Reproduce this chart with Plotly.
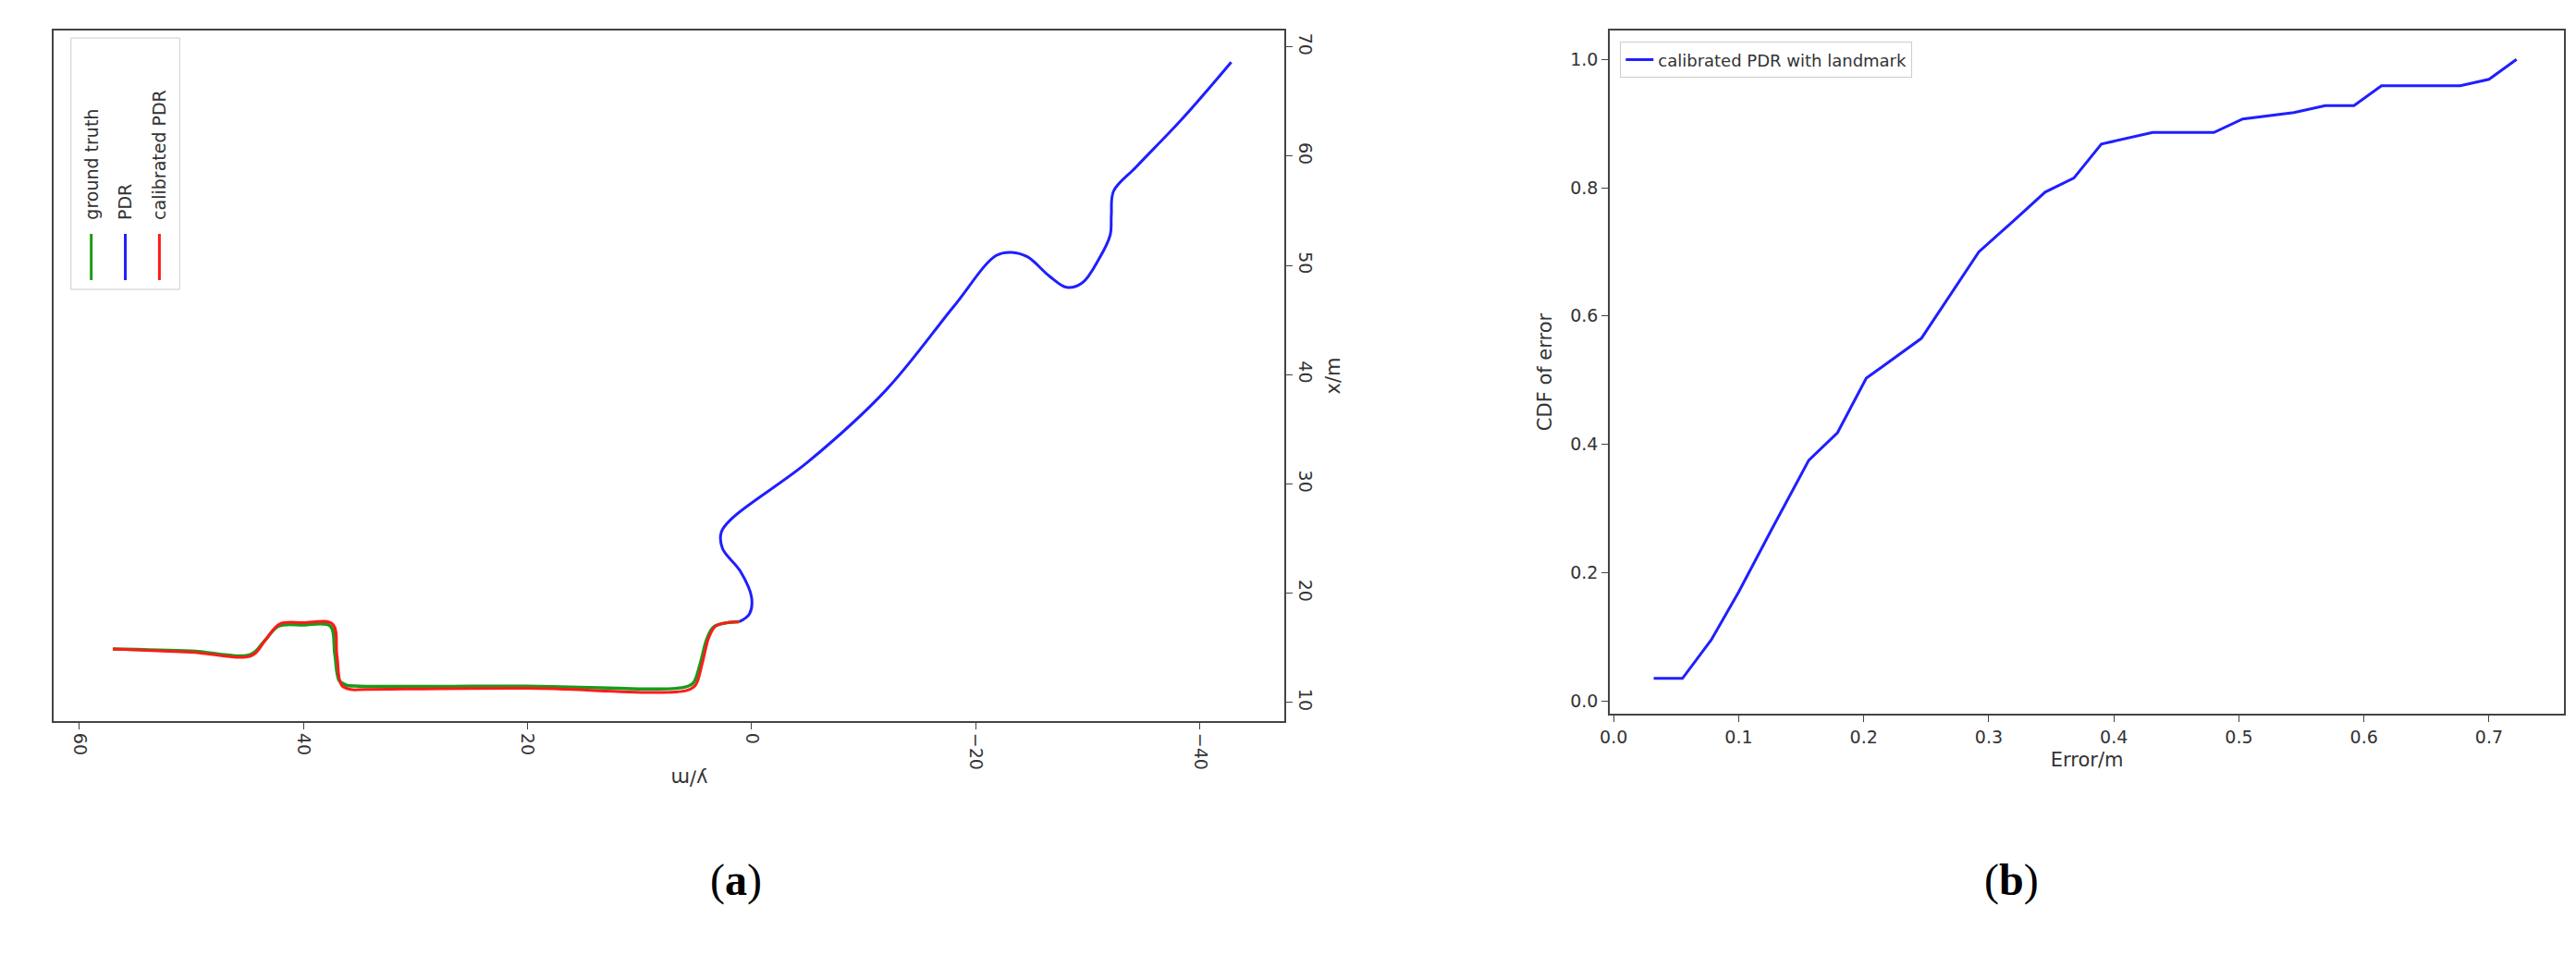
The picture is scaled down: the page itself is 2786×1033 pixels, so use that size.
import plotly.graph_objects as go

# Left panel: trajectories (y/m horizontal, x/m vertical)
gt_y = [57, 50, 44.7, 43.5, 42.2, 40, 37.6, 37.2, 36.8, 36.2, 35, 20, 6, 5.2, 4.6, 4.0, 3.4, 2.2, 1.1]
gt_x = [14.9, 14.7, 14.4, 15.6, 17.0, 17.1, 17.0, 14.5, 12.0, 11.6, 11.5, 11.5, 11.4, 11.8, 13.5, 15.8, 16.9, 17.3, 17.4]
cal_y = [57, 50, 44.6, 43.4, 42.1, 40, 37.4, 37.0, 36.6, 35.8, 34.5, 20, 5.8, 5.0, 4.4, 3.8, 3.2, 2.2, 1.1]
cal_x = [14.9, 14.6, 14.3, 15.7, 17.2, 17.3, 17.2, 14.3, 11.6, 11.2, 11.2, 11.3, 11.1, 11.6, 13.6, 16.0, 17.0, 17.3, 17.4]
pdr_y = [1.1, 0.2, 0.0, 1.0, 2.6, 2.7, 1.7, -5, -12, -18, -21.8, -23.2, -24.6, -26.6, -28.1, -29.5, -31.0, -32.0, -32.1, -32.3, -34.3, -38.5, -42.8]
pdr_x = [17.4, 18.1, 19.6, 22.0, 24.1, 25.6, 26.9, 32.0, 38.6, 46.2, 50.9, 51.2, 50.8, 49.0, 48.0, 48.4, 50.6, 52.8, 54.6, 56.8, 59.0, 63.5, 68.6]

# Right panel: CDF of error
err = [0.032, 0.055, 0.078, 0.1, 0.126, 0.156, 0.179, 0.202, 0.246, 0.269, 0.292, 0.319,
       0.345, 0.368, 0.39, 0.431, 0.48, 0.503, 0.544, 0.569, 0.592, 0.614, 0.677, 0.7, 0.722]
cdf = [0.035, 0.035, 0.095, 0.17, 0.266, 0.375, 0.418, 0.503, 0.565, 0.632, 0.70, 0.747,
       0.793, 0.815, 0.868, 0.886, 0.886, 0.907, 0.917, 0.928, 0.928, 0.959, 0.959, 0.969, 1.0]

W, H = 2786, 1033
fig = go.Figure()
fig.add_trace(go.Scatter(x=pdr_y, y=pdr_x, mode="lines", line=dict(color="#1f1fff", width=3, shape="spline"),
                         name="PDR", xaxis="x", yaxis="y", showlegend=False))
fig.add_trace(go.Scatter(x=gt_y, y=gt_x, mode="lines", line=dict(color="#1a9a1a", width=3.5, shape="spline"),
                         name="ground truth", xaxis="x", yaxis="y", showlegend=False))
fig.add_trace(go.Scatter(x=cal_y, y=cal_x, mode="lines", line=dict(color="#ff1a1a", width=3, shape="spline"),
                         name="calibrated PDR", xaxis="x", yaxis="y", showlegend=False))
fig.add_trace(go.Scatter(x=err, y=cdf, mode="lines", line=dict(color="#1f1fff", width=3),
                         name="calibrated PDR with landmark", xaxis="x2", yaxis="y2"))

tickfont = dict(family="DejaVu Sans", size=19, color="#333")
ax_common = dict(showline=True, linecolor="#444", linewidth=2, mirror=True, ticks="outside",
                 ticklen=7, tickcolor="#444", showgrid=False, zeroline=False, tickfont=tickfont)
tfont = dict(family="DejaVu Sans", size=21, color="#333")

x0a, x1a, y0a, y1a = 39/W, 1375/W, 1-772/H, 1-25/H
x0b, x1b, y0b, y1b = 1729/W, 2765/W, 1-764/H, 1-25/H

fig.update_layout(
    width=W, height=H, plot_bgcolor="white", paper_bgcolor="white",
    margin=dict(l=0, r=0, t=0, b=0),
    xaxis=dict(domain=[x0a, x1a], range=[62.3, -47.5], tickvals=[60, 40, 20, 0, -20, -40],
               ticktext=["60", "40", "20", "0", "−20", "−40"], tickangle=90, anchor="y",
               **ax_common),
    yaxis=dict(domain=[y0a, y1a], range=[8.3, 71.5], side="right", tickvals=[10, 20, 30, 40, 50, 60, 70],
               tickangle=90, anchor="x",
               title=dict(text="x/m", font=tfont, standoff=12),
               **ax_common),
    xaxis2=dict(domain=[x0b, x1b], range=[-0.003, 0.76], dtick=0.1, tickformat=".1f", anchor="y2",
                title=dict(text="Error/m", font=tfont, standoff=8),
                **ax_common),
    yaxis2=dict(domain=[y0b, y1b], range=[-0.02, 1.045], dtick=0.2, tickformat=".1f", anchor="x2",
                title=dict(text="CDF of error", font=tfont, standoff=14),
                **ax_common),
    legend=dict(x=x0b + 0.004, y=y1b - 0.012, xanchor="left", yanchor="top", bgcolor="white",
                bordercolor="#ccc", borderwidth=1, font=dict(family="DejaVu Sans", size=18, color="#333")),
    showlegend=True,
)

# upside-down y/m title (rotated matplotlib figure)
fig.add_annotation(x=(x0a + x1a) / 2, y=1-848/H, xref="paper", yref="paper", text="y/m", textangle=180,
                   showarrow=False, font=tfont)

# Rotated legend for left panel
lx0, ly_top = 58/W, 1-33/H
fig.add_shape(type="rect", xref="paper", yref="paper", x0=lx0, x1=lx0+118/W, y0=1-305/H, y1=ly_top,
              line=dict(color="#ccc", width=1), fillcolor="white", layer="above")
names = ["ground truth", "PDR", "calibrated PDR"]
cols = ["#1a9a1a", "#1f1fff", "#ff1a1a"]
for i, (n, c) in enumerate(zip(names, cols)):
    xc = lx0 + (22 + i*37)/W
    fig.add_shape(type="line", xref="paper", yref="paper", x0=xc, x1=xc, y0=1-295/H, y1=1-245/H,
                  line=dict(color=c, width=3), layer="above")
    fig.add_annotation(x=xc, y=1-232/H, xref="paper", yref="paper", text=n, textangle=-90,
                       xanchor="center", yanchor="bottom", showarrow=False,
                       font=dict(family="DejaVu Sans", size=19, color="#333"))

for lab, xc in [("(<b>a</b>)", 750/W), ("(<b>b</b>)", 2197/W)]:
    fig.add_annotation(x=xc, y=1-973/H, xref="paper", yref="paper", text=lab, showarrow=False,
                       font=dict(family="Liberation Serif", size=48, color="black"))

fig.write_html("out.html")
